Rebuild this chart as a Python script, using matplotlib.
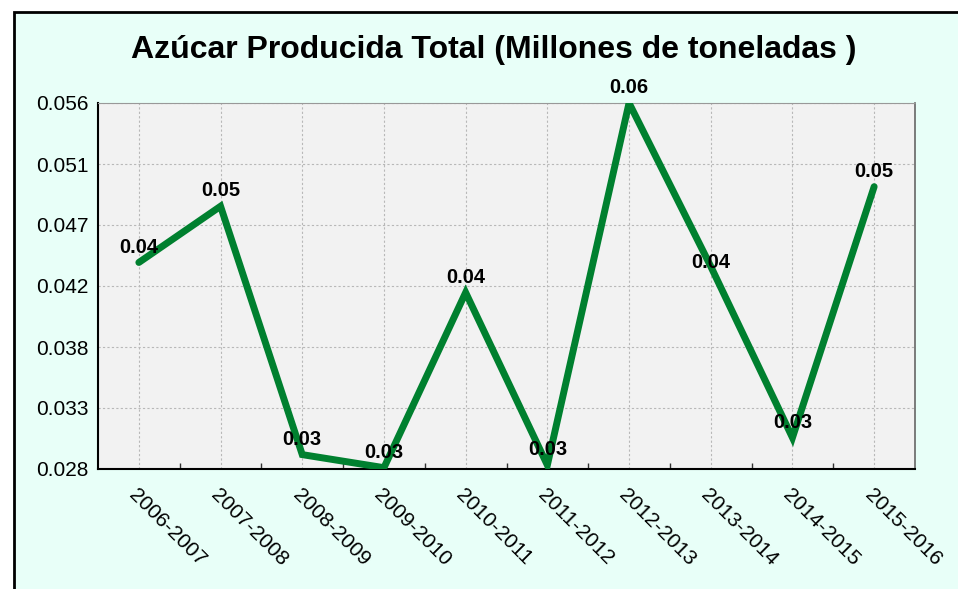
import numpy as np
import matplotlib.pyplot as plt
from matplotlib.patches import Rectangle
from matplotlib.ticker import FixedLocator

# Datos
seasons = ['2006-2007', '2007-2008', '2008-2009', '2009-2010', '2010-2011',
           '2011-2012', '2012-2013', '2013-2014', '2014-2015', '2015-2016']
sugar = [0.0438, 0.0481, 0.0291, 0.0281, 0.0415,
         0.0283, 0.0560, 0.0435, 0.0304, 0.0496]
ytick_vals = [0.028, 0.032667, 0.037333, 0.042, 0.046667, 0.051333, 0.056]
ytick_labels = ['0.028', '0.033', '0.038', '0.042', '0.047', '0.051', '0.056']
title = 'Azúcar Producida Total (Millones de toneladas )'

plt.rcParams['font.family'] = ['Liberation Sans', 'DejaVu Sans']

W, H = 958, 589
fig = plt.figure(figsize=(W / 100, H / 100), dpi=100)
fig.patch.set_facecolor('white')
# marco del grafico (sale por la derecha y por abajo)
fig.patches.append(Rectangle((14 / W, -0.05), 1.0, (H - 12) / H + 0.05,
                             transform=fig.transFigure, facecolor='#E8FFF8',
                             edgecolor='black', linewidth=2, zorder=-5))

ax = fig.add_axes([98 / W, 1 - 469 / H, (915 - 98) / W, (469 - 103) / H])
ax.set_facecolor('#F2F2F2')

x = np.arange(len(seasons))
ax.plot(x, sugar, color='#00802F', linewidth=5, solid_capstyle='round',
        solid_joinstyle='miter', zorder=3)
for i, (xi, v) in enumerate(zip(x, sugar)):
    dy = 3 if i == 7 else 11   # la etiqueta de 2013-2014 va casi sobre la linea
    ax.annotate('%.2f' % v, (xi, v), xytext=(0, dy), textcoords='offset points',
                ha='center', va='center', fontsize=14.5, fontweight='bold', zorder=4)

ax.set_xlim(-0.5, len(seasons) - 0.5)
ax.set_ylim(0.028, 0.056)

ax.set_xticks(x)
ax.set_xticklabels(seasons, rotation=-45, ha='left', va='top', rotation_mode='anchor',
                   fontsize=15)
ax.tick_params(axis='x', which='major', length=0, pad=12)
ax.xaxis.set_minor_locator(FixedLocator(np.arange(0.5, len(seasons) - 1, 1)))
ax.tick_params(axis='x', which='minor', direction='in', length=4, width=1, color='#333333')

ax.set_yticks(ytick_vals)
ax.set_yticklabels(ytick_labels, fontsize=15)
ax.tick_params(axis='y', length=0, pad=7)

ax.grid(True, which='major', linestyle=(0, (2, 2)), color='#B8B8B8', linewidth=0.8)
ax.set_axisbelow(True)

ax.spines['left'].set_linewidth(1.5)
ax.spines['bottom'].set_linewidth(1.5)
ax.spines['top'].set_color('#999999')
ax.spines['top'].set_linestyle((0, (1, 1)))
ax.spines['right'].set_color('#666666')
ax.spines['right'].set_linewidth(1.2)

fig.text(494 / W, 1 - 50 / H, title, ha='center', va='center',
         fontsize=23, fontweight='bold')

fig.savefig('out.png', dpi=100)
